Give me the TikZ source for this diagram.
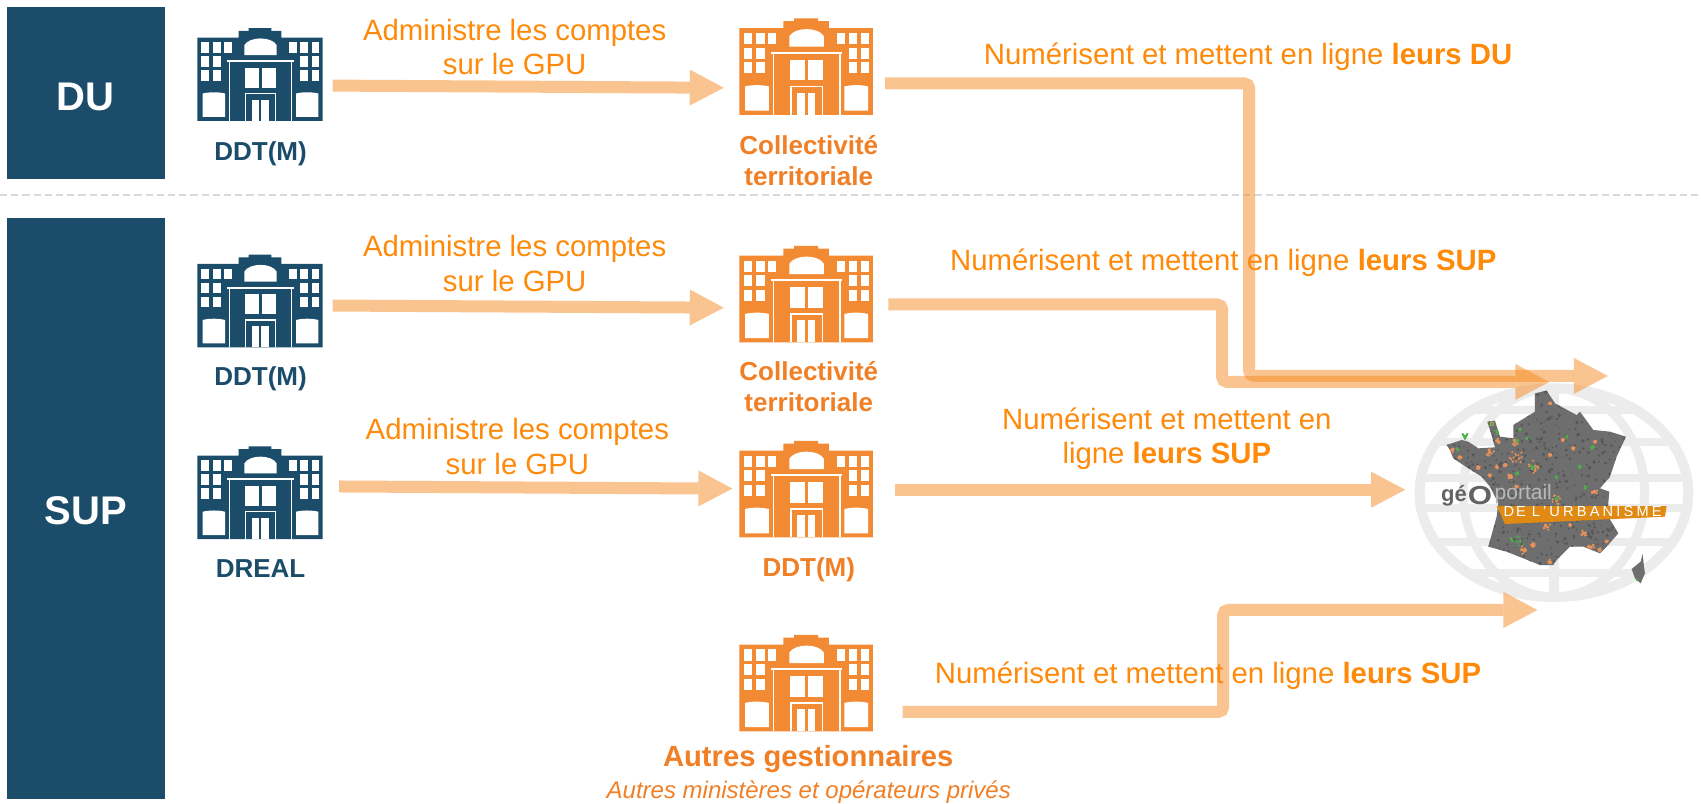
\documentclass[tikz,border=0pt]{standalone}
\usepackage{fontspec}
\setmainfont{Liberation Sans}
\usetikzlibrary{arrows.meta}
\definecolor{navy}{HTML}{1B4D6B}
\definecolor{bldorange}{HTML}{F28A33}
\definecolor{txtorange}{HTML}{FF8A0A}
\definecolor{lblorange}{HTML}{F07F26}
\definecolor{flowc}{HTML}{F78A22}
\definecolor{globec}{HTML}{ECECEC}
\definecolor{mapgray}{HTML}{6E6E6E}
\definecolor{mapdark}{HTML}{565656}
\definecolor{blobor}{HTML}{E8935A}
\definecolor{blobgr}{HTML}{4DB04A}
\definecolor{banner}{HTML}{E08A14}
\definecolor{dashc}{HTML}{D2DADF}
\tikzset{
  pics/building/.style={code={
    \begin{scope}[shift={(-272,-54)}]
      \fill[#1] (84,332) -- (84,82) -- (208,82) -- (208,62) -- (238,62) -- (238,54) -- (306,54) -- (306,62) -- (336,62) -- (336,82) -- (460,82) -- (460,332) -- cycle;
      \fill[white] (225,135) -- (225,105) .. controls (240,78) and (307,78) .. (322,105) -- (322,135) -- cycle;
      \foreach \wy in {96,138,180}{
        \fill[white] (96,\wy) rectangle ++(24,32);
        \fill[white] (132,\wy) rectangle ++(23,32);
        \fill[white] (392,\wy) rectangle ++(23,32);
        \fill[white] (428,\wy) rectangle ++(22,32);
      }
      \fill[white] (165,96) rectangle ++(23,32);
      \fill[white] (358,96) rectangle ++(24,32);
      \fill[white] (173,150) rectangle (373,156);
      \fill[white] (178,156) rectangle (182,332);
      \fill[white] (365,156) rectangle (369,332);
      \fill[white] (228,173) rectangle (270,232);
      \fill[white] (278,173) rectangle (320,232);
      \fill[white] (227,248) rectangle (321,332);
      \fill[#1] (231,252) rectangle (317,332);
      \fill[white] (247,268) rectangle (270,332);
      \fill[white] (276,268) rectangle (298,332);
      \fill[white] (100,320) -- (100,250) .. controls (120,245) and (147,245) .. (167,250) -- (167,320) -- cycle;
      \fill[white] (380,320) -- (380,250) .. controls (400,245) and (427,245) .. (447,250) -- (447,320) -- cycle;
    \end{scope}
  }},
  navybld/.style={x=0.1667pt,y=-0.1667pt},
  orbld/.style={x=0.1775pt,y=-0.1735pt},
  flow/.style={line width=6pt,draw=flowc,opacity=.5,rounded corners=2.5pt,
    -{Triangle[length=17pt,width=18pt,line width=0pt]}},
  sidebox/.style={fill=navy,text=white,font=\bfseries\fontsize{20}{24}\selectfont},
  action/.style={text=txtorange,align=center,font=\fontsize{14.67}{17.3}\selectfont,inner sep=0pt},
  navylbl/.style={text=navy,font=\bfseries\fontsize{13}{15}\selectfont,inner sep=0pt},
  orlbl/.style={text=lblorange,align=center,font=\bfseries\fontsize{13}{15.7}\selectfont,inner sep=0pt},
}
\begin{document}
\begin{tikzpicture}[x=0.54175pt,y=-0.54175pt]
\useasboundingbox (0,0) rectangle (1570,742);
\fill[white] (0,0) rectangle (1570,742);
% side boxes
\fill[navy] (6,6) rectangle (152,165);
\fill[navy] (6,201) rectangle (152,737);
\node[sidebox] (du) at (79,89) {DU};
\node[sidebox] (sup) at (79,471) {SUP};
\coordinate (dl) at (0,180); \coordinate (dr) at (1570,180);
\draw[dashc,line width=1pt,dash pattern=on 3.6pt off 2pt] (dl) -- (dr);
% globe and map
\begin{scope}[x=0.16667pt,y=-0.16667pt,shift={(4200,1110)}]
  \begin{scope}
    \clip (462,368) ellipse [x radius=418,y radius=328];
    \foreach \ly in {120,215,325,415,515,610}
      \fill[globec] (0,\ly-12) rectangle (950,\ly+12);
  \end{scope}
  \draw[globec,line width=5pt] (462,368) ellipse [x radius=403,y radius=313];
  \draw[globec,line width=4.5pt] (462,368) ellipse [x radius=272,y radius=313];
  \fill[globec] (447,55) rectangle (477,680);
  \def\francepath{(140,225) -- (185,210) -- (205,215) -- (235,235) -- (285,232) -- (275,195) -- (262,155) -- (285,152) -- (300,200) -- (340,205) -- (340,165) -- (405,125) -- (405,70) -- (440,62) -- (465,100) -- (530,135) -- (540,125) -- (580,180) -- (630,185) -- (678,200) -- (650,260) -- (630,320) -- (600,355) -- (628,365) -- (625,400) -- (625,440) -- (655,490) -- (620,530) -- (600,550) -- (550,530) -- (510,530) -- (470,570) -- (460,585) -- (420,585) -- (370,565) -- (320,545) -- (265,530) -- (290,440) -- (295,400) -- (270,350) -- (245,320) -- (205,295) -- (160,265) -- (150,240) -- cycle}
  \begin{scope}
    \expandafter\clip\francepath;
    \fill[mapgray] (100,40) rectangle (700,600);
    \pgfmathsetseed{42}
    \foreach \i in {1,...,700}{
      \pgfmathsetmacro{\px}{140+rnd*540}
      \pgfmathsetmacro{\py}{60+rnd*530}
      \pgfmathsetmacro{\pr}{1.5+rnd*4}
      \fill[mapdark] (\px,\py) circle [radius=\pr];
    }
    \foreach \bx/\by/\br in {155/240/12,180/262/5,268/245/13,345/215/12,345/260/24,405/290/20,330/318/10,290/290/5,315/285/5,235/292/5,270/315/6,470/390/16,585/365/10,440/470/12,550/490/10,570/530/12,600/540/6,370/540/12,400/525/8,275/160/6,295/215/10,450/255/4,490/210/4,520/235/4,585/215/4,350/350/5,450/100/4,450/575/6,510/465/3,620/515/4}{
      \foreach \j in {1,...,14}{
        \pgfmathsetmacro{\ang}{rnd*360}
        \pgfmathsetmacro{\dst}{rnd*\br}
        \fill[blobor] ({\bx+\dst*cos(\ang)},{\by+\dst*sin(\ang)}) circle [radius=3.5];
      }
    }
    \foreach \bx/\by/\br in {172/238/5,290/185/8,275/162/5,350/212/6,398/290/7,350/312/6,360/515/20,335/510/8,470/385/4,578/232/7,540/290/5,360/178/4,470/322/4,555/352/5,500/200/4,380/205/3}{
      \foreach \j in {1,...,10}{
        \pgfmathsetmacro{\ang}{rnd*360}
        \pgfmathsetmacro{\dst}{rnd*\br}
        \fill[blobgr] ({\bx+\dst*cos(\ang)},{\by+\dst*sin(\ang)}) circle [radius=3];
      }
    }
  \end{scope}
  % Corsica
  \fill[mapgray] (728,552) -- (732,590) -- (735,610) -- (722,640) -- (705,625) -- (695,597) -- (722,575) -- cycle;
  \fill[blobgr] (712,630) circle [radius=4];
  % pin
  \draw[blobgr,line width=.9pt,fill=white] (195,206) -- (187,190) arc [start angle=180,end angle=0,radius=8] -- cycle;
  % logo
  \node[inner sep=0pt,text=mapgray!90!black,font=\bfseries\fontsize{11}{11}\selectfont] (gelogo) at (162,378) {gé};
  \node[inner sep=0pt,text=mapgray!90!black,xscale=1.2,font=\bfseries\fontsize{13}{13}\selectfont] (ologo) at (240,378) {O};
  \node[inner sep=0pt,text=gray!55,font=\fontsize{10.5}{11}\selectfont] (portail) at (370,372) {portail};
  \fill[banner] (290,408) -- (800,408) -- (795,440) -- (315,462) -- cycle;
  \node[inner sep=0pt,text=white,font=\fontsize{7.3}{8}\selectfont,anchor=west] (urba) at (310,425) {D\kern1pt E\kern3pt L\kern1.5pt '\kern1.5pt U\kern1.6pt R\kern1.6pt B\kern1.6pt A\kern1.6pt N\kern1.6pt I\kern1.6pt S\kern1.6pt M\kern1.6pt E};
\end{scope}
% buildings
\coordinate (n1) at (240,26);
\coordinate (n2) at (240,235);
\coordinate (n3) at (240,412);
\coordinate (o1) at (744,17);
\coordinate (o2) at (744,227);
\coordinate (o3) at (744,407);
\coordinate (o4) at (744,586);
\pic[navybld] at (n1) {building=navy};
\pic[navybld] at (n2) {building=navy};
\pic[navybld] at (n3) {building=navy};
\pic[orbld] at (o1) {building=bldorange};
\pic[orbld] at (o2) {building=bldorange};
\pic[orbld] at (o3) {building=bldorange};
\pic[orbld] at (o4) {building=bldorange};
% labels
\node[navylbl] (l1) at (240.5,142) {DDT(M)};
\node[navylbl] (l2) at (240.5,350) {DDT(M)};
\node[navylbl] (l3) at (240.5,525) {DREAL};
\node[orlbl] (l4) at (746.5,148) {Collectivité\\territoriale};
\node[orlbl] (l5) at (746.5,357) {Collectivité\\territoriale};
\node[orlbl] (l6) at (746.5,526) {DDT(M)};
\node[orlbl,font=\bfseries\fontsize{14.6}{17}\selectfont] (l7) at (746,701) {Autres gestionnaires};
\node[orlbl,font=\itshape\fontsize{12}{14}\selectfont] (l8) at (746.5,731) {Autres ministères et opérateurs privés};
% action texts
\node[action] (t1) at (475,43.5) {Administre les comptes\\sur le GPU};
\node[action] (t2) at (475,243) {Administre les comptes\\sur le GPU};
\node[action] (t3) at (477.5,412) {Administre les comptes\\sur le GPU};
\node[action] (t4) at (1152,52.5) {Numérisent et mettent en ligne \textbf{leurs DU}};
\node[action] (t5) at (1129,242.5) {Numérisent et mettent en ligne \textbf{leurs SUP}};
\node[action] (t6) at (1077,405) {Numérisent et mettent en\\ligne \textbf{leurs SUP}};
\node[action] (t7) at (1115,623.5) {Numérisent et mettent en ligne \textbf{leurs SUP}};
% flows
\coordinate (a1s) at (307,79); \coordinate (a1e) at (668,81);
\coordinate (a2s) at (307,282); \coordinate (a2e) at (668,284);
\coordinate (a3s) at (313,449); \coordinate (a3e) at (676,451);
\coordinate (b1s) at (817,77); \coordinate (b1c) at (1153,77); \coordinate (b1d) at (1153,347); \coordinate (b1e) at (1484,347);
\coordinate (b2s) at (820,281); \coordinate (b2c) at (1128,281); \coordinate (b2d) at (1128,352.5); \coordinate (b2e) at (1430,352.5);
\coordinate (b3s) at (826,452); \coordinate (b3e) at (1297,452);
\coordinate (b4s) at (833,657); \coordinate (b4c) at (1129,657); \coordinate (b4d) at (1129,563); \coordinate (b4e) at (1419,563);
\draw[flow] (a1s) -- (a1e);
\draw[flow] (a2s) -- (a2e);
\draw[flow] (a3s) -- (a3e);
\draw[flow] (b1s) -- (b1c) -- (b1d) -- (b1e);
\draw[flow] (b2s) -- (b2c) -- (b2d) -- (b2e);
\draw[flow] (b3s) -- (b3e);
\draw[flow] (b4s) -- (b4c) -- (b4d) -- (b4e);
\end{tikzpicture}
\end{document}
